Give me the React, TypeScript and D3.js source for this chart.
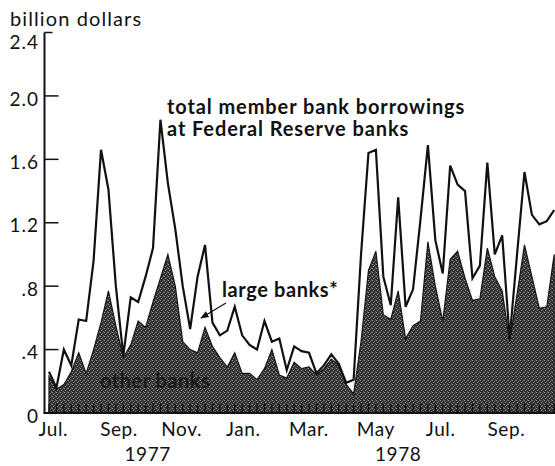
import React from 'react';
import * as d3 from 'd3';

// weekly averages, billion dollars, first week of July 1977 onward
const startWeek = new Date(1977, 6, 6);

const totalBorrowings = [
  0.26, 0.16, 0.40, 0.30, 0.59, 0.58, 0.96, 1.66, 1.41, 0.80,
  0.36, 0.73, 0.70, 0.86, 1.04, 1.85, 1.45, 1.16, 0.80, 0.53,
  0.86, 1.06, 0.57, 0.49, 0.52, 0.67, 0.49, 0.43, 0.40, 0.58,
  0.45, 0.47, 0.27, 0.42, 0.39, 0.38, 0.25, 0.30, 0.37, 0.31,
  0.19, 0.21, 1.00, 1.64, 1.66, 0.86, 0.68, 1.36, 0.67, 0.78,
  1.22, 1.69, 1.09, 0.88, 1.56, 1.44, 1.40, 0.85, 0.93, 1.58,
  1.00, 1.12, 0.47, 1.00, 1.52, 1.25, 1.19, 1.21, 1.28,
];

const otherBanks = [
  0.23, 0.15, 0.18, 0.26, 0.38, 0.25, 0.40, 0.57, 0.77, 0.55,
  0.35, 0.43, 0.58, 0.54, 0.70, 0.85, 1.00, 0.80, 0.45, 0.40,
  0.38, 0.54, 0.42, 0.35, 0.29, 0.38, 0.25, 0.25, 0.21, 0.28,
  0.40, 0.24, 0.22, 0.32, 0.28, 0.29, 0.24, 0.28, 0.34, 0.30,
  0.18, 0.12, 0.45, 0.90, 1.02, 0.62, 0.59, 0.77, 0.47, 0.55,
  0.58, 1.08, 0.80, 0.58, 0.97, 1.02, 0.85, 0.71, 0.72, 1.04,
  0.86, 0.77, 0.45, 0.75, 1.06, 0.86, 0.66, 0.67, 1.00,
];

const yTicks = [0, 0.4, 0.8, 1.2, 1.6, 2.0, 2.4];
const yTickLabels = ['0', '.4', '.8', '1.2', '1.6', '2.0', '2.4'];

const monthLabels = ['Jul.', 'Sep.', 'Nov.', 'Jan.', 'Mar.', 'May', 'Jul.', 'Sep.'];
const monthDates = [
  new Date(1977, 6, 10), new Date(1977, 8, 10), new Date(1977, 10, 8),
  new Date(1978, 0, 5), new Date(1978, 2, 8), new Date(1978, 4, 10),
  new Date(1978, 6, 10), new Date(1978, 8, 10),
];
const yearLabels = ['1977', '1978'];
const yearDates = [new Date(1977, 9, 7), new Date(1978, 4, 31)];

const W = 555;
const H = 466;
const FONT = "Lato, 'Open Sans', sans-serif";

const App: React.FC = () => {
  const weeks = totalBorrowings.map((_, i) => d3.timeDay.offset(startWeek, 7 * i));

  const x = d3.scaleTime()
    .domain([weeks[0], weeks[weeks.length - 1]])
    .range([49, 554.2]);
  const y = d3.scaleLinear().domain([0, 2.4]).range([413, 32.5]);

  const otherArea = d3.area<number>()
    .x((_, i) => x(weeks[i]))
    .y0(y(0))
    .y1(d => y(d));

  const totalLine = d3.line<number>()
    .x((_, i) => x(weeks[i]))
    .y(d => y(d));

  const axisX = 44.5;

  return (
    <svg
      width={W}
      height={H}
      style={{ position: 'absolute', left: 0, top: 0, display: 'block', background: '#fff' }}
      fontFamily={FONT}
    >
      <defs>
        <pattern id="halftone" width="4" height="4" patternUnits="userSpaceOnUse">
          <rect width="4" height="4" fill="#2a2a2a" />
          <rect x="0" y="0" width="1" height="1" fill="#9a9a9a" />
          <rect x="2" y="1" width="1" height="1" fill="#7a7a7a" />
          <rect x="1" y="2" width="1" height="1" fill="#a4a4a4" />
          <rect x="3" y="3" width="1" height="1" fill="#6c6c6c" />
          <rect x="3" y="0" width="1" height="1" fill="#555" />
        </pattern>
        <marker id="arrow" viewBox="0 0 10 10" refX="9" refY="5"
          markerWidth="7" markerHeight="7" orient="auto">
          <path d="M 0 1 L 10 5 L 0 9 z" fill="#111" />
        </marker>
      </defs>

      {/* other banks area */}
      <path d={otherArea(otherBanks) || ''} fill="url(#halftone)" stroke="#151515" strokeWidth={1.2} />

      {/* weekly ticks along the base */}
      {weeks.map((w, i) => (
        <line key={i} x1={x(w)} x2={x(w)} y1={y(0)} y2={y(0) - 9} stroke="#111" strokeWidth={1.3} />
      ))}

      {/* total borrowings line */}
      <path d={totalLine(totalBorrowings) || ''} fill="none" stroke="#111" strokeWidth={2.2} strokeLinejoin="miter" />

      {/* axes */}
      <line x1={axisX} x2={axisX} y1={y(2.4)} y2={y(0)} stroke="#111" strokeWidth={2} />
      <line x1={axisX - 1} x2={W} y1={y(0)} y2={y(0)} stroke="#111" strokeWidth={2} />
      {yTicks.map((t, i) => (
        <g key={t}>
          {t > 0 && (
            <line x1={axisX} x2={t === 2.4 ? axisX + 8 : axisX + 14} y1={y(t)} y2={y(t)} stroke="#111" strokeWidth={1.5} />
          )}
          <text
            x={39}
            y={y(t) + (t === 2.4 ? 10 : 3)}
            dy="0.35em"
            textAnchor="end"
            fontSize={19}
            letterSpacing={1}
            fill="#111"
          >
            {yTickLabels[i]}
          </text>
        </g>
      ))}
      <text x={10} y={26} fontSize={20} letterSpacing={1.1} fill="#111">billion dollars</text>

      {monthLabels.map((m, i) => (
        <text key={i} x={x(monthDates[i])} y={436} textAnchor="middle" fontSize={19} letterSpacing={0.6} fill="#111">{m}</text>
      ))}
      {yearLabels.map((yr, i) => (
        <text key={yr} x={x(yearDates[i])} y={461} textAnchor="middle" fontSize={19} letterSpacing={0.6} fill="#111">{yr}</text>
      ))}

      {/* annotations */}
      <text x={167} y={114} fontSize={20} fontWeight="bold" letterSpacing={0.9} fill="#111">total member bank borrowings</text>
      <text x={167} y={136} fontSize={20} fontWeight="bold" letterSpacing={0.9} fill="#111">at Federal Reserve banks</text>
      <text x={222} y={297} fontSize={20} fontWeight="bold" letterSpacing={0.6} fill="#111">large banks*</text>
      <line x1={226} y1={303} x2={201} y2={318} stroke="#111" strokeWidth={1.2} markerEnd="url(#arrow)" />
      <text x={100} y={388} fontSize={20} fontWeight="bold" letterSpacing={0.5} fill="#1a1a1a">other banks</text>
    </svg>
  );
};

export default App;
